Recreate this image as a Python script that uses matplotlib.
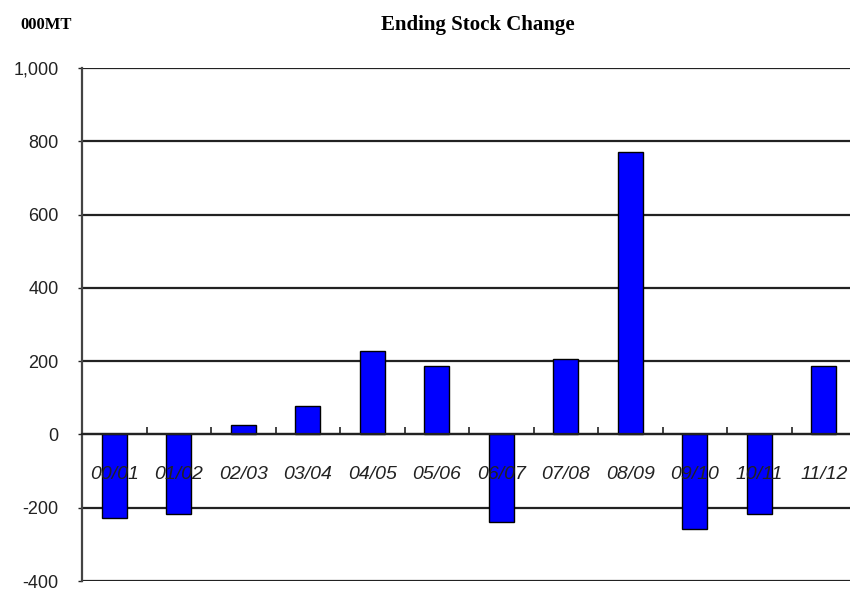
import matplotlib
matplotlib.use("Agg")
import matplotlib.pyplot as plt
import numpy as np

# Daten
seasons = ['00/01', '01/02', '02/03', '03/04', '04/05', '05/06',
           '06/07', '07/08', '08/09', '09/10', '10/11', '11/12']
change = [-229, -218, 25, 77, 229, 188, -240, 207, 770, -259, -218, 188]
yticks = [-400, -200, 0, 200, 400, 600, 800, 1000]

sans = ['Liberation Sans Narrow', 'Liberation Sans', 'DejaVu Sans']
serif = ['Liberation Serif', 'DejaVu Serif']

fig = plt.figure(figsize=(8.5, 5.92), dpi=100)
ax = fig.add_axes([82/850, 11/592, 774/850, 513/592])
ax.set_axisbelow(True)

x = np.arange(len(seasons))
ax.bar(x, change, width=0.39, color='#0000ff', edgecolor='black', linewidth=1, zorder=1)

ax.set_xlim(-0.5, len(seasons) - 0.5)
ax.set_ylim(-400, 1000)
ax.set_yticks(yticks)
ax.set_yticklabels(['{:,}'.format(v) for v in yticks], family=sans, fontsize=13, color='#222')
ax.yaxis.grid(True, color='#222', linewidth=1.6)
ax.tick_params(axis='y', length=3, width=1, pad=14, colors='#222')

# Nulllinje med Strichen nach oben
ax.spines['bottom'].set_position(('data', 0))
ax.spines['bottom'].set_linewidth(1.6)
ax.spines['bottom'].set_color('#222')
ax.set_xticks(x[:-1] + 0.5)
ax.set_xticklabels([])
ax.tick_params(axis='x', direction='in', length=5, width=1.2, colors='#222')
ax.spines['left'].set_linewidth(1.6)
ax.spines['left'].set_color('#444')
ax.spines['top'].set_visible(False)
ax.spines['right'].set_visible(False)

for i, s in enumerate(seasons):
    ax.annotate(s, xy=(i, 0), xytext=(0, -29), textcoords='offset points',
                ha='center', va='center', fontsize=14, style='italic',
                family=sans, color='#222', zorder=5)

fig.text(478/850, 1 - 25/592, 'Ending Stock Change', ha='center', va='center',
         fontsize=15, fontweight='bold', family=serif)
fig.text(20/850, 1 - 25/592, '000MT', ha='left', va='center',
         fontsize=12, fontweight='bold', family=serif)

plt.savefig('out.png', dpi=100)
